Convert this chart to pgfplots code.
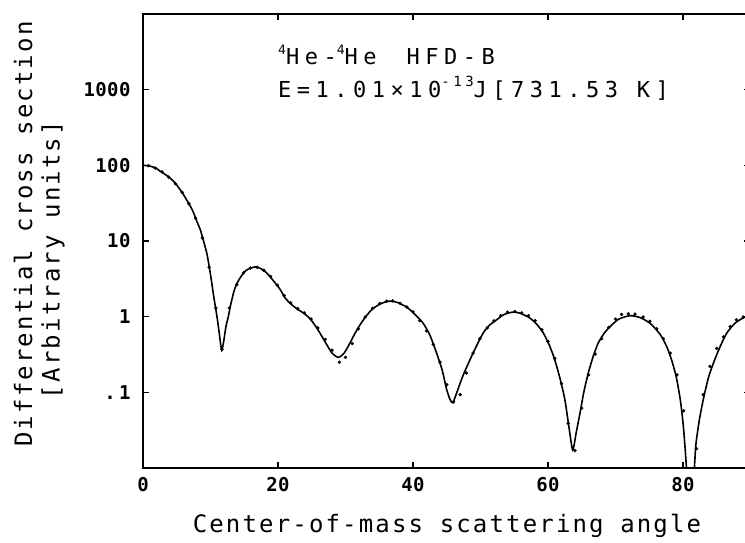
\documentclass[border=0pt]{standalone}
\usepackage{fontspec}
\setmainfont{DejaVu Sans Mono}
\newfontfamily\labfont[LetterSpace=9]{DejaVu Sans Mono}
\newfontfamily\annfont[LetterSpace=25]{DejaVu Sans Mono}
\newfontfamily\tickfont[LetterSpace=2]{DejaVu Sans Mono Bold}
\usepackage{pgfplots}
\pgfplotsset{compat=1.18}
\begin{document}
\begin{tikzpicture}
\begin{axis}[
  scale only axis, width=607.5pt, height=454pt,
  xmin=0, xmax=90, ymode=log, ymin=0.01, ymax=10000,
  xtick={0,20,40,60,80}, xticklabels={0,20,40,60,80},
  ytick={0.1,1,10,100,1000}, yticklabels={.\,1,1,10,100,1000},
  yminorticks=false,
  tick align=inside, major tick length=6pt,
  every tick/.style={black, line width=1.2pt},
  axis line style={line width=1.6pt},
  tick label style={font=\tickfont\fontsize{19}{21}\selectfont},
  xticklabel style={yshift=-6pt},
  yticklabel style={xshift=-9pt},
]
\addplot[black, line width=1.6pt, smooth, tension=0.4] table {
x y
0 100
1 98
2 91
2.5 84
3 79
4 68
4.5 62
5 55
6 41
7 29
7.5 23.5
8 18
8.5 14
9 9.8
9.5 6.6
10 3.6
10.5 1.8
11 0.95
11.3 0.6
11.66 0.36
12 0.5
12.3 0.75
12.64 1.0
13 1.45
13.5 2.2
14 2.85
14.9 3.8
15.5 4.2
16.6 4.55
17.5 4.3
18.3 3.8
19.3 3.0
20.3 2.3
21 1.8
21.8 1.5
22.8 1.27
23.75 1.12
24.7 0.95
25.7 0.72
26.5 0.55
27.2 0.43
28 0.33
28.94 0.29
29.8 0.33
30.67 0.45
31.4 0.6
32.15 0.78
33 1.0
33.9 1.24
35 1.45
36.3 1.6
37.6 1.55
39.06 1.34
40.3 1.07
41.5 0.82
42.5 0.57
43.5 0.33
44.3 0.2
45.0 0.108
45.5 0.08
45.9 0.073
46.5 0.1
47.45 0.17
48.9 0.33
50.4 0.61
51.4 0.78
52.4 0.91
53.5 1.07
54.86 1.15
56 1.1
57.3 0.96
58.3 0.8
59.3 0.61
60.2 0.42
61.0 0.27
61.8 0.15
62.5 0.080
63.1 0.035
63.66 0.0173
64.2 0.03
64.74 0.053
65.3 0.10
65.97 0.18
66.7 0.30
67.45 0.45
68.3 0.6
69.2 0.74
70.5 0.93
72.15 1.03
73.7 0.97
75.1 0.82
76.0 0.68
76.8 0.55
77.6 0.4
78.3 0.27
79.0 0.16
79.6 0.08
80.0 0.04
80.3 0.019
80.6 0.008
81.1 0.003
81.65 0.009
81.9 0.02
82.4 0.042
83.0 0.08
83.8 0.16
84.7 0.27
85.6 0.42
86.5 0.61
87.7 0.82
88.9 0.96
90 1.05
};
\addplot[only marks, mark=*, mark size=1.5pt, black] table {
x y
0.8 99
1.8 92
2.8 82
3.8 70
4.8 57
5.8 44
6.8 31
7.8 20
8.8 11
9.8 4.5
10.8 1.3
11.7 0.37
12.8 1.3
13.9 2.65
14.9 3.8
15.9 4.4
16.9 4.5
17.9 4.1
18.9 3.4
19.9 2.6
20.9 1.9
21.9 1.52
22.9 1.28
23.9 1.12
24.9 0.93
25.9 0.71
27.0 0.50
28.0 0.36
29.1 0.25
30.0 0.29
31.0 0.44
31.9 0.69
32.9 0.99
34.0 1.29
35.1 1.49
36.1 1.6
37.0 1.62
38.1 1.5
39.1 1.34
40.0 1.16
41.0 0.885
42.0 0.65
43.0 0.43
44.0 0.25
45.0 0.126
46.0 0.075
47.0 0.093
47.9 0.18
48.9 0.33
49.9 0.51
51.0 0.71
52.0 0.88
53.0 1.03
54.0 1.15
55.1 1.17
56.1 1.12
57.1 1.03
58.1 0.885
59.1 0.67
60.0 0.47
61.0 0.28
62.0 0.13
63.0 0.039
64.0 0.017
65.0 0.062
66.0 0.17
67.0 0.32
67.95 0.51
69.0 0.72
70.0 0.93
70.9 1.07
71.9 1.09
72.9 1.08
74.1 0.99
75.1 0.87
76.1 0.69
77.1 0.51
78.1 0.33
79.1 0.17
80.1 0.057
82.0 0.018
83.0 0.093
84.0 0.22
85.0 0.38
86.0 0.54
87.0 0.74
87.9 0.91
88.9 0.99
};
\coordinate (O) at (rel axis cs:0,0);
\end{axis}
\node[rotate=90] at ([shift={(-120pt,234pt)}]O) {\labfont\fontsize{24}{26}\selectfont Differential cross section};
\node[rotate=90] at ([shift={(-90pt,208pt)}]O) {\labfont\fontsize{24}{26}\selectfont [Arbitrary units]};
\node at ([shift={(304pt,-58pt)}]O) {\labfont\fontsize{24}{26}\selectfont Center-of-mass scattering angle};
\node[anchor=west, inner sep=0pt] at ([shift={(135pt,413pt)}]O) {\annfont\fontsize{22}{24}\selectfont\raisebox{0.45em}{\fontsize{13}{13}\selectfont 4}He-\raisebox{0.45em}{\fontsize{13}{13}\selectfont 4}He\hspace{30pt}HFD-B};
\node[anchor=west, inner sep=0pt] at ([shift={(135pt,380pt)}]O) {\annfont\fontsize{22}{24}\selectfont E=1.01\texttimes10\raisebox{0.5em}{\fontsize{14}{14}\selectfont -13}J[731.53 K]};
\pgfresetboundingbox
\path[use as bounding box] ([shift={(-143pt,-75pt)}]O) rectangle ([shift={(602pt,468pt)}]O);
\end{tikzpicture}
\end{document}
